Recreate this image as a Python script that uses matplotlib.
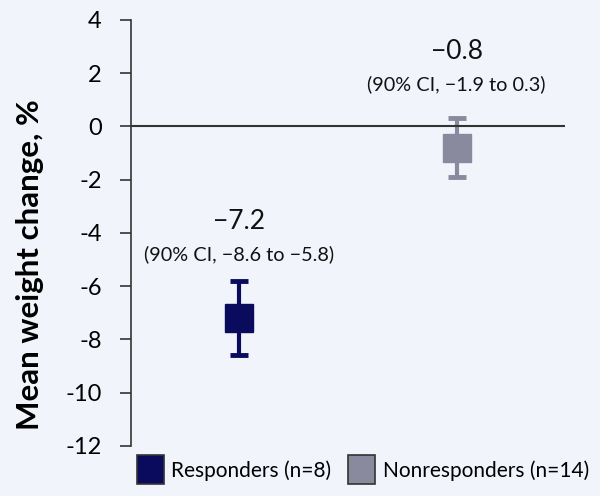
import matplotlib.pyplot as plt
from matplotlib.patches import Patch

# data
groups = ["Responders (n=8)", "Nonresponders (n=14)"]
means = [-7.2, -0.8]
ci_low = [-8.6, -1.9]
ci_high = [-5.8, 0.3]
colors = ["#0b0b5e", "#8a8a9e"]
yticks = [4, 2, 0, -2, -4, -6, -8, -10, -12]

plt.rcParams['font.family'] = ['Lato', 'DejaVu Sans']

fig = plt.figure(figsize=(6, 4.96), dpi=100, facecolor="#f1f5fb")
ax = fig.add_axes([0.218, 0.101, 0.724, 0.859])
ax.set_facecolor("none")


def fmt(v):
    return ("\u2212" if v < 0 else "") + f"{abs(v):.1f}"


for i, (m, lo, hi, c) in enumerate(zip(means, ci_low, ci_high, colors)):
    ax.errorbar(i, m, yerr=[[m - lo], [hi - m]], fmt='s', color=c,
                markersize=19.5, elinewidth=3, capsize=6.5, capthick=3.5)
    ax.text(i, m + 3.62, fmt(m), ha='center', va='center',
            fontsize=19, color="#111111")
    ax.text(i, m + 2.4, f"(90% CI, {fmt(lo)} to {fmt(hi)})",
            ha='center', va='center', fontsize=14.3, color="#111111")

ax.axhline(0, color="#333333", lw=1.5)
ax.set_xlim(-0.5, 1.5)
ax.set_ylim(-12, 4)
ax.set_yticks(yticks)
ax.set_yticklabels([str(t) for t in yticks], fontsize=17)
ax.set_xticks([])
for s in ['top', 'right', 'bottom']:
    ax.spines[s].set_visible(False)
ax.spines['left'].set_color("#333333")
ax.spines['left'].set_linewidth(1.2)
ax.tick_params(axis='y', length=8, width=1.2, color="#333333", pad=13)
ax.set_ylabel("Mean weight change, %", fontsize=22.5, fontweight='bold')
ax.yaxis.set_label_coords(-0.2, 0.425)

handles = [Patch(facecolor=c, edgecolor="#333333", linewidth=1.2) for c in colors]
fig.legend(handles, groups, loc='lower center', bbox_to_anchor=(0.605, -0.014),
           ncol=2, frameon=False, fontsize=15, handlelength=1.3, handleheight=1.75,
           handletextpad=0.35, columnspacing=0.8)

fig.savefig("out.png", dpi=100, facecolor=fig.get_facecolor())
